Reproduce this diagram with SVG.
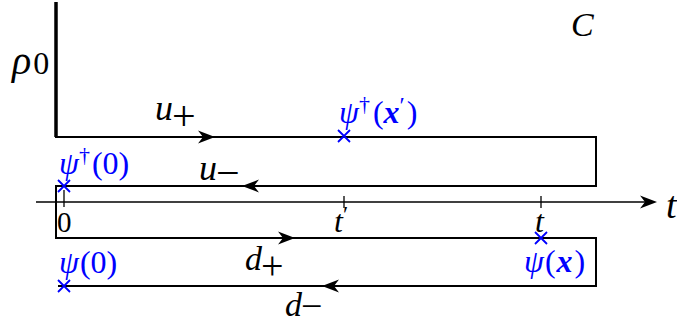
<svg xmlns="http://www.w3.org/2000/svg" width="677" height="329" viewBox="0 0 677 329">
<style>
.ln{fill:none;stroke:#000;stroke-width:2;stroke-linejoin:miter}
.ax{fill:none;stroke:#000;stroke-width:1.3}
.tk{stroke:#000;stroke-width:1.3}
.mx{stroke:#0000ff;stroke-width:1.8}
.m{font-family:"Liberation Serif","Times New Roman",serif;font-style:italic;fill:#000}
.r{font-family:"Liberation Serif","Times New Roman",serif;font-style:normal}
.b{fill:#0000ff}
</style>
<defs>
<path id="ar" d="M0,0 L-17,-6.5 L-12,0 L-17,6.5 Z" fill="#000"/>
<path id="cx" d="M-6,-6 L6,6 M-6,6 L6,-6"/>
</defs>
<g id="connectors">
<path class="ln" d="M56,2 V137" style="stroke-width:3.5"/>
<path class="ln" d="M55,137 H596 V186 H56 V238 H596 V286 H58"/>
<path class="ax" d="M36,202 H650"/>
<use href="#ar" transform="translate(657,202)"/>
<use href="#ar" transform="translate(215,137)"/>
<use href="#ar" transform="translate(242,186) rotate(180)"/>
<use href="#ar" transform="translate(295,238)"/>
<use href="#ar" transform="translate(322,286) rotate(180)"/>
<line class="tk" x1="64" y1="190" x2="64" y2="207"/>
<line class="tk" x1="344" y1="196" x2="344" y2="208"/>
<line class="tk" x1="541" y1="196" x2="541" y2="208"/>
</g>
<g id="rho0"><text class="m" x="12" y="74" font-size="40">ρ<tspan class="r" font-size="32" dx="2" dy="0">0</tspan></text></g>
<g id="C"><text class="m" x="571" y="36" font-size="34">C</text></g>
<g id="uplus"><text class="m" x="155" y="120" font-size="36">u<tspan class="r" font-size="42" dx="-1" dy="10">+</tspan></text></g>
<g id="uminus"><text class="m" x="199" y="180" font-size="36">u<tspan class="r" font-size="42" dx="-1" dy="7">−</tspan></text></g>
<g id="dplus"><text class="m" x="245" y="270" font-size="34">d<tspan class="r" font-size="40" dx="-1" dy="9">+</tspan></text></g>
<g id="dminus"><text class="m" x="285" y="316" font-size="34">d<tspan class="r" font-size="38" dx="-1" dy="3">−</tspan></text></g>
<g id="psidag-xp">
<use href="#cx" class="mx" transform="translate(344,136)"/>
<text class="m b" x="339" y="123" font-size="32">ψ<tspan class="r" font-size="22" dy="-12">†</tspan><tspan class="r" dx="3" dy="12">(</tspan><tspan font-weight="bold">x</tspan><tspan class="r" font-size="24" dy="-10">′</tspan><tspan class="r" dx="2" dy="10">)</tspan></text>
</g>
<g id="psidag-0">
<use href="#cx" class="mx" transform="translate(64,186)"/>
<text class="m b" x="59" y="174" font-size="32">ψ<tspan class="r" font-size="22" dy="-12">†</tspan><tspan class="r" dx="2" dy="12">(0)</tspan></text>
</g>
<g id="psi-x">
<use href="#cx" class="mx" transform="translate(541,238)"/>
<text class="m b" x="524" y="272" font-size="32">ψ<tspan class="r" dx="1">(</tspan><tspan font-weight="bold" dx="1">x</tspan><tspan class="r" dx="2">)</tspan></text>
</g>
<g id="psi-0">
<use href="#cx" class="mx" transform="translate(64,286)"/>
<text class="m b" x="59" y="273" font-size="32">ψ<tspan class="r" dx="1">(0)</tspan></text>
</g>
<g id="tick-labels">
<text class="m r" x="57" y="232" font-size="29">0</text>
<text class="m" x="334" y="232" font-size="32">t<tspan class="r" font-size="24" dy="-10">′</tspan></text>
<text class="m" x="535" y="232" font-size="32">t</text>
<text class="m" x="666" y="218" font-size="38">t</text>
</g>
</svg>
